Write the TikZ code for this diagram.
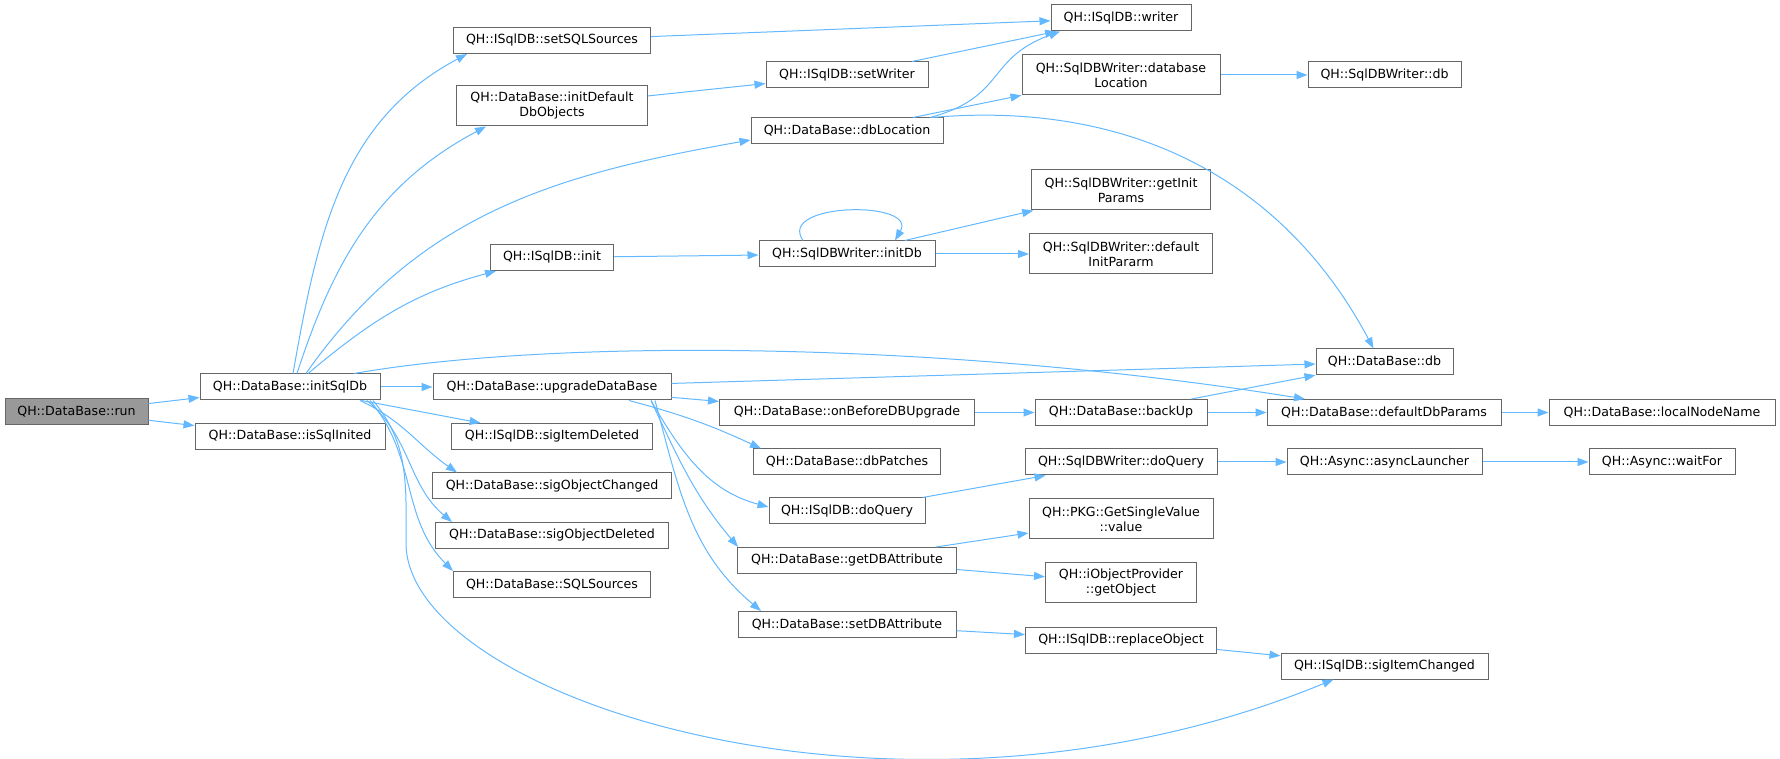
\documentclass[tikz,border=0pt]{standalone}
\usepackage{fontspec}
\setmainfont{DejaVu Sans}
\usetikzlibrary{arrows.meta}
\definecolor{edgeblue}{HTML}{63B8FF}
\definecolor{boxgray}{HTML}{666666}
\definecolor{rootgray}{HTML}{999999}
\tikzstyle{fn} = [draw=boxgray,fill=white,line width=1pt,minimum height=26pt,inner sep=1pt,align=center,font=\fontsize{12.6}{15}\selectfont]
\tikzstyle{fn2} = [fn,minimum height=40pt]
\tikzstyle{call} = [draw=edgeblue,line width=1pt,-{Triangle[length=11pt,width=8pt]}]

\begin{document}
\begin{tikzpicture}[x=1pt,y=1pt]
\useasboundingbox (0,0) rectangle (1780,758);
\node[fn,minimum width=143pt,fill=rootgray] (run) at (76.5,346) {QH::DataBase::run};
\node[fn,minimum width=180pt] (initSqlDb) at (290,371) {QH::DataBase::initSqlDb};
\node[fn,minimum width=190pt] (isSqlInited) at (290,321.5) {QH::DataBase::isSqlInited};
\node[fn,minimum width=197pt] (setSQLSources) at (552,717.5) {QH::ISqlDB::setSQLSources};
\node[fn2,minimum width=191pt] (initDefaultDbObjects) at (552,652) {QH::DataBase::initDefault\\DbObjects};
\node[fn,minimum width=123pt] (init) at (552,500.5) {QH::ISqlDB::init};
\node[fn,minimum width=238pt] (upgradeDataBase) at (552,371) {QH::DataBase::upgradeDataBase};
\node[fn,minimum width=201pt] (sigItemDeleted) at (552,321.5) {QH::ISqlDB::sigItemDeleted};
\node[fn,minimum width=239pt] (sigObjectChanged) at (552,272) {QH::DataBase::sigObjectChanged};
\node[fn,minimum width=233pt] (sigObjectDeleted) at (552,222.5) {QH::DataBase::sigObjectDeleted};
\node[fn,minimum width=197pt] (SQLSources) at (552,173.5) {QH::DataBase::SQLSources};
\node[fn,minimum width=140pt] (writer) at (1121,740) {QH::ISqlDB::writer};
\node[fn,minimum width=162pt] (setWriter) at (847,683) {QH::ISqlDB::setWriter};
\node[fn2,minimum width=198pt] (databaseLocation) at (1121,683) {QH::SqlDBWriter::database\\Location};
\node[fn,minimum width=192pt] (dbLocation) at (847,627) {QH::DataBase::dbLocation};
\node[fn2,minimum width=179pt] (getInitParams) at (1121,568) {QH::SqlDBWriter::getInit\\Params};
\node[fn,minimum width=176pt] (initDb) at (847,504) {QH::SqlDBWriter::initDb};
\node[fn2,minimum width=183pt] (defaultInitPararm) at (1121,504) {QH::SqlDBWriter::default\\InitPararm};
\node[fn,minimum width=255pt] (onBeforeDBUpgrade) at (847,345.5) {QH::DataBase::onBeforeDBUpgrade};
\node[fn,minimum width=187pt] (dbPatches) at (847,296) {QH::DataBase::dbPatches};
\node[fn,minimum width=156pt] (iDoQuery) at (847,247) {QH::ISqlDB::doQuery};
\node[fn,minimum width=219pt] (getDBAttribute) at (847,197.5) {QH::DataBase::getDBAttribute};
\node[fn,minimum width=218pt] (setDBAttribute) at (847,133.5) {QH::DataBase::setDBAttribute};
\node[fn,minimum width=172pt] (backUp) at (1121,345.5) {QH::DataBase::backUp};
\node[fn,minimum width=192pt] (wDoQuery) at (1121,296) {QH::SqlDBWriter::doQuery};
\node[fn2,minimum width=184pt] (value) at (1121,239) {QH::PKG::GetSingleValue\\::value};
\node[fn2,minimum width=151pt] (getObject) at (1121,175) {QH::iObjectProvider\\::getObject};
\node[fn,minimum width=191pt] (replaceObject) at (1121,118) {QH::ISqlDB::replaceObject};
\node[fn,minimum width=153pt] (writerDb) at (1384.5,683) {QH::SqlDBWriter::db};
\node[fn,minimum width=137pt] (db) at (1384.5,396) {QH::DataBase::db};
\node[fn,minimum width=234pt] (defaultDbParams) at (1384,345.5) {QH::DataBase::defaultDbParams};
\node[fn,minimum width=195pt] (asyncLauncher) at (1384.5,296) {QH::Async::asyncLauncher};
\node[fn,minimum width=207pt] (sigItemChanged) at (1384.5,92) {QH::ISqlDB::sigItemChanged};
\node[fn,minimum width=226pt] (localNodeName) at (1662,345.5) {QH::DataBase::localNodeName};
\node[fn,minimum width=146pt] (waitFor) at (1662,296) {QH::Async::waitFor};
\coordinate (bend) at (406,215);
% straight calls
\draw[call] (run) -- (initSqlDb);
\draw[call] (run) -- (isSqlInited);
\draw[call] (initSqlDb) -- (upgradeDataBase);
\draw[call] (initSqlDb) -- (sigItemDeleted);
\draw[call] (setSQLSources) -- (writer);
\draw[call] (initDefaultDbObjects) -- (setWriter);
\draw[call] (setWriter) -- (writer);
\draw[call] (databaseLocation) -- (writerDb);
\draw[call] (dbLocation) -- (databaseLocation);
\draw[call] (init) -- (initDb);
\draw[call] (initDb) -- (getInitParams);
\draw[call] (initDb) -- (defaultInitPararm);
\draw[call] (upgradeDataBase) -- (onBeforeDBUpgrade);
\draw[call] (upgradeDataBase) -- (db);
\draw[call] (onBeforeDBUpgrade) -- (backUp);
\draw[call] (backUp) -- (defaultDbParams);
\draw[call] (backUp) -- (db);
\draw[call] (defaultDbParams) -- (localNodeName);
\draw[call] (iDoQuery) -- (wDoQuery);
\draw[call] (wDoQuery) -- (asyncLauncher);
\draw[call] (asyncLauncher) -- (waitFor);
\draw[call] (getDBAttribute) -- (value);
\draw[call] (getDBAttribute) -- (getObject);
\draw[call] (setDBAttribute) -- (replaceObject);
\draw[call] (replaceObject) -- (sigItemChanged);
% curved calls
\draw[call] ([xshift=3pt]initSqlDb.north) to[out=80,in=208] ([xshift=-85pt]setSQLSources.south);
\draw[call] ([xshift=7pt]initSqlDb.north) to[out=72,in=208] ([xshift=-66pt]initDefaultDbObjects.south);
\draw[call] ([xshift=16pt]initSqlDb.north) to[out=55,in=190] ([yshift=-9pt]dbLocation.west);
\draw[call] ([xshift=18pt]initSqlDb.north) to[out=40,in=195] ([xshift=-56pt]init.south);
\draw[call] ([xshift=64pt]initSqlDb.north) .. controls +(206,36) and +(-355,57) .. ([xshift=-79pt]defaultDbParams.north);
\draw[call] ([xshift=70pt]initSqlDb.south) to[out=-25,in=145] ([xshift=-95pt]sigObjectChanged.north);
\draw[call] ([xshift=77pt]initSqlDb.south) to[out=-40,in=140] ([xshift=-100pt]sigObjectDeleted.north);
\draw[call] ([xshift=80pt]initSqlDb.south) to[out=-50,in=135] ([xshift=-99pt]SQLSources.north);
\draw[call] ([xshift=83pt]initSqlDb.south) to[out=-50,in=90] (bend) .. controls (406,60) and (900,-100) .. ([xshift=-51pt]sigItemChanged.south);
\draw[call] ([xshift=77pt]upgradeDataBase.south) to[out=-15,in=155] ([xshift=-86pt]dbPatches.north);
\draw[call] ([xshift=99pt]upgradeDataBase.south) to[out=-60,in=165] ([yshift=4pt]iDoQuery.west);
\draw[call] ([xshift=99pt]upgradeDataBase.south) to[out=-65,in=130] ([xshift=-109pt]getDBAttribute.north);
\draw[call] ([xshift=103pt]upgradeDataBase.south) to[out=-75,in=140] ([xshift=-86pt]setDBAttribute.north);
\draw[call] ([xshift=83pt]dbLocation.north) to[out=15,in=200,looseness=1.3] ([xshift=-61pt]writer.south);
\draw[call] ([xshift=85pt]dbLocation.north) to[out=5,in=118] ([xshift=-11pt]db.north);
\draw[call] ([xshift=-44pt]initDb.north) to[out=125,in=60,looseness=1.3] ([xshift=48pt]initDb.north);
\end{tikzpicture}
\end{document}
